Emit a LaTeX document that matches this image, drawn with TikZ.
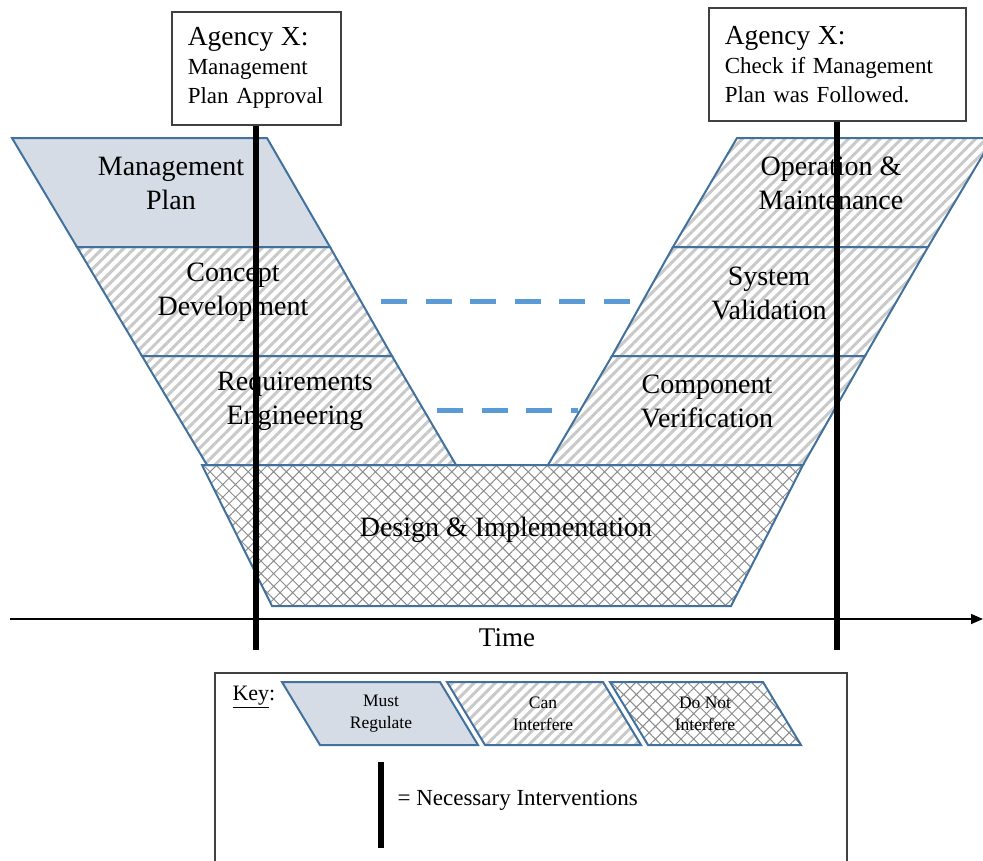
\documentclass[tikz,border=0pt]{standalone}
\usepackage{fontspec}
\setmainfont{Liberation Serif}
\usetikzlibrary{patterns.meta,arrows.meta}

\definecolor{bandedge}{RGB}{65,113,156}
\definecolor{mustfill}{RGB}{214,220,229}
\definecolor{dashblue}{RGB}{91,155,213}
\definecolor{boxedge}{RGB}{64,64,64}

\begin{document}
\begin{tikzpicture}[x=1pt,y=-1pt,
	band/.style={draw=bandedge,line width=2pt},
	must/.style={band,fill=mustfill},
	can/.style={band,pattern={Lines[angle=45,distance=7.5pt,line width=3pt]},pattern color=gray!42},
	donot/.style={band,pattern={Hatch[angle=45,distance=9pt,line width=1pt]},pattern color=black!45},
	phase/.style={font=\fontsize{28}{34}\selectfont,align=center},
	keytext/.style={font=\fontsize{17.5}{22}\selectfont,align=center},
	agency/.style={draw=boxedge,line width=1.5pt,fill=white,align=left,inner xsep=16pt,
		minimum height=113pt,anchor=north west,font=\fontsize{23}{29}\selectfont},
	intervention/.style={line width=6pt,black},
	link/.style={dashblue,line width=5pt,dash pattern=on 26pt off 18.6pt}]
	\useasboundingbox (0,0) rectangle (983,860);

	% left leg of the V
	\draw[must] (12,138) -- (267,138) -- (330,247) -- (77,247) -- cycle;
	\draw[can] (77,247) -- (330,247) -- (392,356) -- (142,356) -- cycle;
	\draw[can] (142,356) -- (392,356) -- (456,465) -- (207,465) -- cycle;
	% right leg of the V
	\draw[can] (737,138) -- (993,138) -- (928,247) -- (673,247) -- cycle;
	\draw[can] (673,247) -- (928,247) -- (865,356) -- (612,356) -- cycle;
	\draw[can] (612,356) -- (865,356) -- (803,465) -- (548,465) -- cycle;
	% bottom
	\draw[donot] (202,465) -- (803,465) -- (731,606) -- (272,606) -- cycle;

	\node[phase] (mgmt) at (171,183) {Management\\Plan};
	\node[phase] (concept) at (233,292) {Concept\\Development};
	\node[phase] (reqs) at (295,401) {Requirements\\Engineering};
	\node[phase] (ops) at (831,183) {Operation \&\\Maintenance};
	\node[phase] (valid) at (769,293) {System\\Validation};
	\node[phase] (verif) at (707,401) {Component\\Verification};
	\node[phase] (design) at (506,530) {Design \& Implementation};

	\coordinate (conceptend) at (381,301);
	\coordinate (validend) at (630,301);
	\coordinate (reqsend) at (437,410);
	\coordinate (verifend) at (578,410);
	\draw[link] (conceptend) -- (validend);
	\draw[link] (reqsend) -- (verifend);

	% time axis
	\coordinate (tstart) at (10,619);
	\coordinate (tend) at (983,619);
	\draw[line width=1.5pt,-{Triangle[length=12pt,width=10pt]}] (tstart) -- (tend);
	\node[font=\fontsize{27}{32}\selectfont] (time) at (507,638) {Time};

	\node[agency,text width=137pt] (approve) at (171,11)
		{{\fontsize{27.5}{31}\selectfont Agency X:}\\Management\\Plan Approval};
	\node[agency,text width=225pt] (check) at (708,7)
		{{\fontsize{27.5}{31}\selectfont Agency X:}\\Check if Management\\Plan was Followed.};
	\coordinate (stop) at (0,650);
	\draw[intervention] (approve.south) -- (approve.south |- stop);
	\draw[intervention] (check.south) -- (check.south |- stop);

	% key
	\draw[boxedge,line width=1.5pt] (215,673) rectangle (847,875);
	\node[anchor=west,font=\fontsize{22}{26}\selectfont] (keylabel) at (229,697) {\underline{Key}:};
	\draw[must] (282,682) -- (440,682) -- (478,745) -- (320,745) -- cycle;
	\node[keytext] (mustkey) at (381,714) {Must\\Regulate};
	\draw[can] (447,682) -- (603,682) -- (641,745) -- (485,745) -- cycle;
	\node[keytext] (cankey) at (543,714) {Can\\Interfere};
	\draw[donot] (610,682) -- (763,682) -- (801,745) -- (648,745) -- cycle;
	\node[keytext] (donotkey) at (705,714) {Do Not\\Interfere};
	\draw[intervention] (381,762) -- (381,848);
	\node[anchor=west,font=\fontsize{23}{28}\selectfont] (keynote) at (394,800) {= Necessary Interventions};
\end{tikzpicture}
\end{document}
